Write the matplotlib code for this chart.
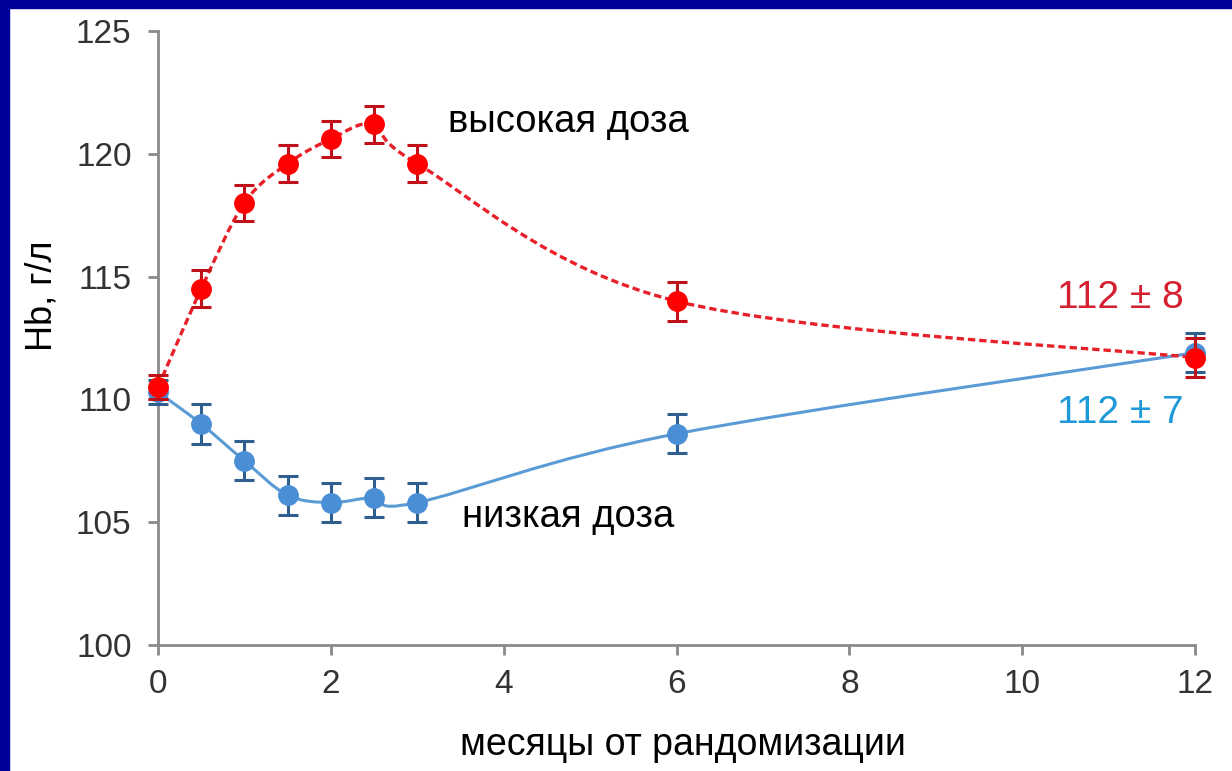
import numpy as np
import matplotlib
matplotlib.use("Agg")
import matplotlib.pyplot as plt
from matplotlib.path import Path
from matplotlib.patches import PathPatch, Rectangle

plt.rcParams['font.family'] = ['Liberation Sans', 'DejaVu Sans']

months = [0, 0.5, 1, 1.5, 2, 2.5, 3, 6, 12]
high_dose = [110.5, 114.5, 118.0, 119.6, 120.6, 121.2, 119.6, 114.0, 111.7]
high_err = [0.5, 0.75, 0.75, 0.75, 0.75, 0.75, 0.75, 0.8, 0.8]
low_dose = [110.3, 109.0, 107.5, 106.1, 105.8, 106.0, 105.8, 108.6, 111.9]
low_err = [0.5, 0.8, 0.8, 0.8, 0.8, 0.8, 0.8, 0.8, 0.8]
xticks = [0, 2, 4, 6, 8, 10, 12]
yticks = [100, 105, 110, 115, 120, 125]

W, H = 1232, 771
fig = plt.figure(figsize=(W / 100, H / 100), dpi=100)
fig.patch.set_facecolor('white')
# blue frame top and left
fig.add_artist(Rectangle((0, 1 - 8 / H), 1, 8 / H, transform=fig.transFigure,
                         color='#000099', zorder=0))
fig.add_artist(Rectangle((0, 0), 9 / W, 1, transform=fig.transFigure,
                         color='#000099', zorder=0))

ax_l, ax_r, ax_t, ax_b = 158, 1195, 31, 645
ax = fig.add_axes([ax_l / W, 1 - ax_b / H, (ax_r - ax_l) / W, (ax_b - ax_t) / H])
ax.set_xlim(0, 12)
ax.set_ylim(100, 125)
for s in ['top', 'right']:
    ax.spines[s].set_visible(False)
for s in ['left', 'bottom']:
    ax.spines[s].set_color('#8a8a8a')
    ax.spines[s].set_linewidth(2)
ax.set_xticks(xticks)
ax.set_yticks(yticks)
ax.tick_params(axis='both', direction='out', length=7, width=2, color='#8a8a8a',
               labelsize=24, labelcolor='#333333')
ax.tick_params(axis='x', pad=10)
ax.tick_params(axis='y', pad=12)

sx = (ax_r - ax_l) / 12.0
sy = (ax_b - ax_t) / 25.0


def smooth_path(xs, ys, t=1 / 6):
    px = np.array(xs, float) * sx
    py = np.array(ys, float) * sy
    n = len(px)
    verts = [(px[0], py[0])]
    codes = [Path.MOVETO]
    for i in range(n - 1):
        p0 = np.array([px[max(i - 1, 0)], py[max(i - 1, 0)]])
        p1 = np.array([px[i], py[i]])
        p2 = np.array([px[i + 1], py[i + 1]])
        p3 = np.array([px[min(i + 2, n - 1)], py[min(i + 2, n - 1)]])
        c1 = p1 + (p2 - p0) * t
        c2 = p2 - (p3 - p1) * t
        verts += [tuple(c1), tuple(c2), tuple(p2)]
        codes += [Path.CURVE4] * 3
    verts = [(vx / sx, vy / sy) for vx, vy in verts]
    return Path(verts, codes)


ax.add_patch(PathPatch(smooth_path(months, low_dose), facecolor='none',
                       edgecolor='#5b9bd5', lw=2.2, zorder=3, clip_on=False))
ax.add_patch(PathPatch(smooth_path(months, high_dose), facecolor='none',
                       edgecolor='#e8202a', lw=2.4, ls=(0, (2.2, 1.2)), zorder=4,
                       clip_on=False))

ax.errorbar(months, low_dose, yerr=low_err, fmt='o', color='#4a8fd6', ms=14,
            ecolor='#2f5f8f', elinewidth=2.2, capsize=7, capthick=2.2, zorder=5,
            clip_on=False)
ax.errorbar(months, high_dose, yerr=high_err, fmt='o', color='#ff0000', ms=14,
            ecolor='#c0101a', elinewidth=2.2, capsize=7, capthick=2.2, zorder=6,
            clip_on=False)

ax.text(568 / W, 1 - 122 / H, 'высокая доза', transform=fig.transFigure,
        ha='center', va='center', fontsize=27.5, color='black')
ax.text(568 / W, 1 - 517 / H, 'низкая доза', transform=fig.transFigure,
        ha='center', va='center', fontsize=27.5, color='black')
ax.text(1120 / W, 1 - 298 / H, '112 ± 8', transform=fig.transFigure,
        ha='center', va='center', fontsize=28, color='#d42030')
ax.text(1120 / W, 1 - 413 / H, '112 ± 7', transform=fig.transFigure,
        ha='center', va='center', fontsize=28, color='#1e9ad8')

fig.text(683 / W, 1 - 745 / H, 'месяцы от рандомизации', ha='center', va='center',
         fontsize=27, color='black')
fig.text(42 / W, 1 - 296 / H, 'Hb, г/л', ha='center', va='center', rotation=90,
         fontsize=26, color='black')

fig.savefig('out.png', dpi=100)
